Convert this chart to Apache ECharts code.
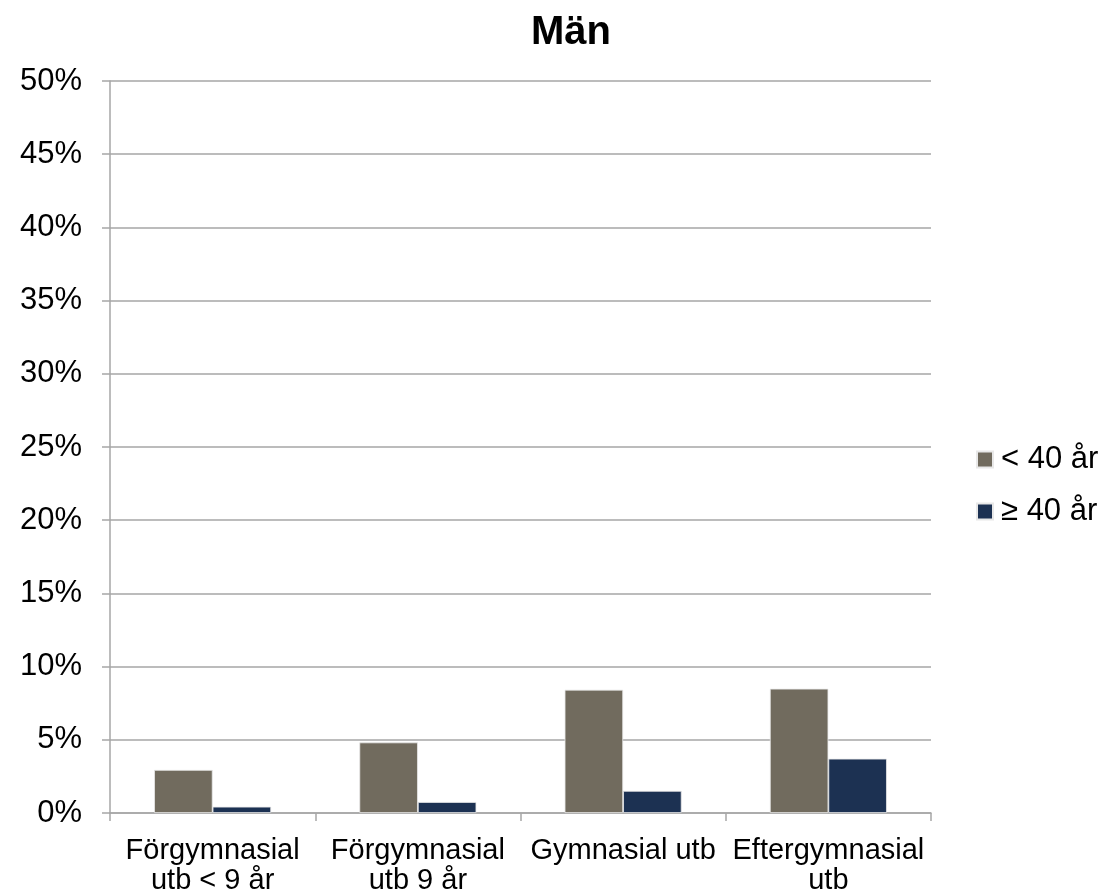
<!DOCTYPE html>
<html>
<head>
<meta charset="utf-8">
<script src="https://cdn.jsdelivr.net/npm/echarts@6/dist/echarts.min.js"></script>
<style>
html,body{margin:0;padding:0;background:#fff;}
#chart{width:1104px;height:896px;}
</style>
</head>
<body>
<div id="chart"></div>
<script>
const categories = ['Förgymnasial\nutb < 9 år', 'Förgymnasial\nutb 9 år', 'Gymnasial utb', 'Eftergymnasial\nutb'];
const seriesNames = ['< 40 år', '≥ 40 år'];
const under40 = [2.94, 4.82, 8.42, 8.49];
const over40 = [0.43, 0.75, 1.51, 3.71];
const yTicks = {min: 0, max: 50, interval: 5};
const titleText = 'Män';

const chart = echarts.init(document.getElementById('chart'));
const font = 'Liberation Sans, Arial, sans-serif';
chart.setOption({
  animation: false,
  backgroundColor: '#fff',
  title: {
    text: titleText, left: 566, top: 8, textAlign: 'center',
    textStyle: {fontFamily: font, fontSize: 40, fontWeight: 'bold', color: '#000'}
  },
  legend: {
    orient: 'vertical', left: 971, top: 439, itemGap: 21,
    itemWidth: 16, itemHeight: 16, icon: 'rect',
    textStyle: {fontFamily: font, fontSize: 31, color: '#000', padding: [0,0,0,3]},
    data: seriesNames
  },
  grid: {left: 110, right: 173, top: 81, bottom: 82},
  xAxis: {
    type: 'category', data: categories,
    axisLine: {lineStyle: {color: '#a6a6a6', width: 1.5}},
    axisTick: {show: true, length: 8, lineStyle: {color: '#a6a6a6', width: 1.5}},
    axisLabel: {fontFamily: font, fontSize: 29, color: '#000', margin: 23, lineHeight: 30, interval: 0}
  },
  yAxis: {
    type: 'value', min: yTicks.min, max: yTicks.max, interval: yTicks.interval,
    axisLine: {show: true, lineStyle: {color: '#a6a6a6', width: 1.5}},
    axisTick: {show: true, length: 8, lineStyle: {color: '#a6a6a6', width: 1.5}},
    splitLine: {lineStyle: {color: '#a6a6a6', width: 1.5}},
    axisLabel: {fontFamily: font, fontSize: 31, color: '#000', margin: 28, formatter: v => v + '%'}
  },
  series: [
    {name: seriesNames[0], type: 'bar', data: under40, barGap: '0%', barCategoryGap: '43%',
     itemStyle: {color: '#716b5e', borderColor: '#e8e8e8', borderWidth: 0.8}},
    {name: seriesNames[1], type: 'bar', data: over40, barGap: '0%', barCategoryGap: '43%',
     itemStyle: {color: '#1c3152', borderColor: '#e8e8e8', borderWidth: 0.8}}
  ]
});
</script>
</body>
</html>
